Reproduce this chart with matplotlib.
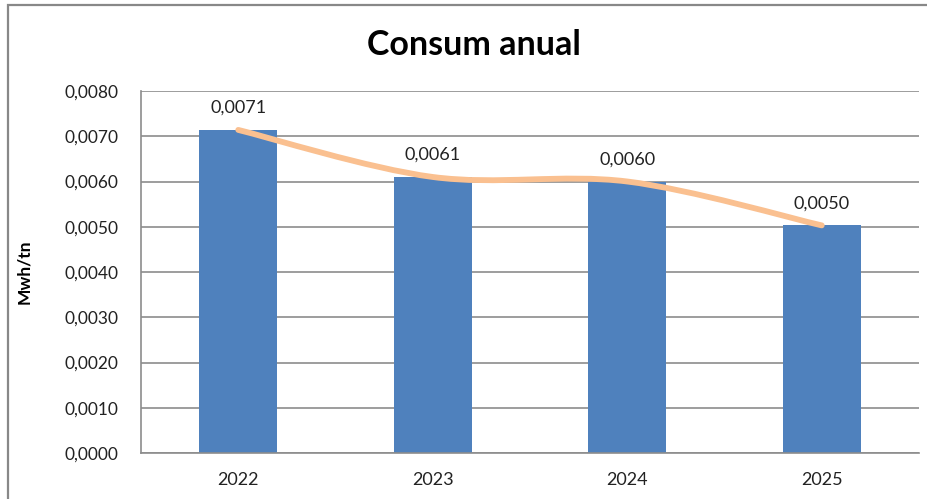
"""Consum anual chart: bars with a smoothed trend line and data labels."""

import matplotlib
matplotlib.use("Agg")
import matplotlib.pyplot as plt
from matplotlib.patches import Rectangle, PathPatch
from matplotlib.path import Path
from matplotlib.ticker import FuncFormatter

years = ["2022", "2023", "2024", "2025"]
consum = [0.00714, 0.00610, 0.00600, 0.00503]
labels = ["0,0071", "0,0061", "0,0060", "0,0050"]

BAR_COLOR = "#4F81BD"
LINE_COLOR = "#FAC090"
GRID_COLOR = "#8C8C8C"

plt.rcParams["font.family"] = ["Lato", "DejaVu Sans"]


def smooth_path(xs, ys):
    """Excel-like smoothed line: cubic Bezier segments through the points."""
    verts = [(xs[0], ys[0])]
    codes = [Path.MOVETO]
    n = len(xs)
    for i in range(n - 1):
        x0, y0 = (xs[i - 1], ys[i - 1]) if i > 0 else (xs[i], ys[i])
        x1, y1 = xs[i], ys[i]
        x2, y2 = xs[i + 1], ys[i + 1]
        x3, y3 = (xs[i + 2], ys[i + 2]) if i + 2 < n else (x2, y2)
        c1 = (x1 + (x2 - x0) / 6, y1 + (y2 - y0) / 6)
        c2 = (x2 - (x3 - x1) / 6, y2 - (y3 - y1) / 6)
        verts += [c1, c2, (x2, y2)]
        codes += [Path.CURVE4] * 3
    return Path(verts, codes)


def main():
    fig = plt.figure(figsize=(9.28, 4.99), dpi=100)
    ax_w = 919 - 141
    ax = fig.add_axes([141 / 928, 1 - 453 / 499, ax_w / 928, (453 - 91) / 499])

    x = list(range(len(years)))
    ax.bar(x, consum, width=0.4, color=BAR_COLOR, zorder=2)

    path = smooth_path(x, consum)
    ax.add_patch(PathPatch(path, facecolor="none", edgecolor=LINE_COLOR,
                           lw=4.2, capstyle="round", zorder=3))

    for xi, v, lab in zip(x, consum, labels):
        ax.annotate(lab, (xi, v), xytext=(0, 16), textcoords="offset points",
                    ha="center", va="center", fontsize=13, color="#222222")

    ax.set_xlim(-0.5, len(years) - 0.5)
    ax.set_ylim(0, 0.008)
    ax.set_yticks([i * 0.001 for i in range(9)])
    ax.yaxis.set_major_formatter(FuncFormatter(lambda v, _: f"{v:.4f}".replace(".", ",")))
    ax.set_xticks(x)
    ax.set_xticklabels(years)
    ax.tick_params(axis="both", length=0, colors="#222222")
    ax.tick_params(axis="y", pad=16, labelsize=12.5)
    ax.tick_params(axis="x", pad=14, labelsize=13)

    ax.grid(axis="y", color=GRID_COLOR, lw=1.2, zorder=0)
    ax.set_axisbelow(True)
    for side in ["top", "right"]:
        ax.spines[side].set_visible(False)
    for side in ["left", "bottom"]:
        ax.spines[side].set_color(GRID_COLOR)
        ax.spines[side].set_linewidth(1.2)

    ax.set_ylabel("Mwh/tn", fontsize=12.5, fontweight="bold")
    ax.yaxis.set_label_coords((32 - 141) / ax_w, 0.5)

    fig.text(474 / 928, 1 - 45 / 499, "Consum anual", ha="center", va="center",
             fontsize=24.5, fontweight="bold", color="black")

    fig.patches.append(Rectangle((7.5 / 928, -0.1), 1.2, 1.1 - 4.5 / 499,
                                 transform=fig.transFigure, fill=False,
                                 edgecolor="#888888", lw=1.6))

    fig.savefig("out.png", dpi=100)
    plt.close(fig)


if __name__ == "__main__":
    main()
